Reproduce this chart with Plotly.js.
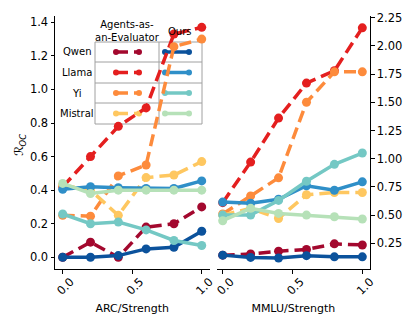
<!DOCTYPE html>
<html>
<head>
<meta charset="utf-8">
<script src="https://cdn.plot.ly/plotly-3.0.1.min.js"></script>
<style>
  html, body { margin: 0; padding: 0; background: #fff; }
  #chart { width: 407px; height: 326px; }
</style>
</head>
<body>
<div id="chart"></div>
<script>
// Strength levels on the x axis
const strength = [0, 0.2, 0.4, 0.6, 0.8, 1.0];
const models = ['Qwen', 'Llama', 'Yi', 'Mistral'];

// ARC panel (left axis), one row per model
const arcAgents = [
  [0.0, 0.09, 0.0, 0.18, 0.20, 0.30],
  [0.42, 0.60, 0.78, 0.89, 1.33, 1.37],
  [0.25, 0.245, 0.485, 0.55, 1.255, 1.30],
  [0.43, 0.40, 0.25, 0.475, 0.49, 0.57]
];
const arcOurs = [
  [0.0, 0.0, 0.01, 0.05, 0.06, 0.155],
  [0.405, 0.42, 0.415, 0.41, 0.41, 0.455],
  [0.258, 0.20, 0.21, 0.163, 0.10, 0.07],
  [0.44, 0.38, 0.40, 0.40, 0.40, 0.40]
];

// MMLU panel (right axis)
const mmluAgents = [
  [0.145, 0.155, 0.18, 0.195, 0.245, 0.235],
  [0.61, 0.97, 1.36, 1.67, 1.78, 2.16],
  [0.51, 0.67, 0.83, 1.50, 1.77, 1.77],
  [0.50, 0.56, 0.47, 0.68, 0.70, 0.70]
];
const mmluOurs = [
  [0.145, 0.125, 0.12, 0.14, 0.13, 0.13],
  [0.615, 0.605, 0.64, 0.76, 0.72, 0.795],
  [0.50, 0.50, 0.63, 0.80, 0.95, 1.05],
  [0.45, 0.56, 0.515, 0.50, 0.485, 0.465]
];

const agentColors = ['#a3082e', '#e41f1f', '#fd8b3c', '#fec760'];
const oursColors = ['#0b529c', '#2f8fc8', '#74c8c4', '#b6e1b8'];

const FONT = 'DejaVu Sans, sans-serif';
const DASH = '12px,6px';

// helpers to place legend bits in pixel terms
const M = { l: 55, r: 37, t: 16, b: 57 };
const PW = 407 - M.l - M.r;
const PH = 326 - M.t - M.b;
const px = x => (x - M.l) / PW;
const py = y => (326 - M.b - y) / PH;

const traces = [];
function addSeries(ys, color, dashed, xa, ya) {
  traces.push({
    x: strength, y: ys, xaxis: xa, yaxis: ya,
    type: 'scatter', mode: 'lines+markers',
    line: { color: color, width: 3.5, dash: dashed ? DASH : 'solid' },
    marker: { color: color, size: 9 },
    showlegend: false, hoverinfo: 'skip'
  });
}
models.forEach((m, i) => {
  addSeries(arcAgents[i], agentColors[i], true, 'x', 'y');
  addSeries(mmluAgents[i], agentColors[i], true, 'x2', 'y2');
});
models.forEach((m, i) => {
  addSeries(arcOurs[i], oursColors[i], false, 'x', 'y');
  addSeries(mmluOurs[i], oursColors[i], false, 'x2', 'y2');
});

// table-style legend
const rows = [42, 62, 83, 103, 124];
const cols = [95, 159, 202];
const shapes = [];
const annotations = [];
const gridLine = { color: '#a0a0a0', width: 1 };
rows.forEach(r => shapes.push({ type: 'line', xref: 'paper', yref: 'paper', layer: 'below',
  x0: px(cols[0]), x1: px(cols[2]), y0: py(r), y1: py(r), line: gridLine }));
cols.forEach(c => shapes.push({ type: 'line', xref: 'paper', yref: 'paper', layer: 'below',
  x0: px(c), x1: px(c), y0: py(rows[0]), y1: py(rows[4]), line: gridLine }));

function dot(x, y, color) {
  shapes.push({ type: 'circle', xref: 'paper', yref: 'paper', layer: 'below',
    xsizemode: 'pixel', ysizemode: 'pixel', xanchor: px(x), yanchor: py(y),
    x0: -3, x1: 3, y0: -3, y1: 3, fillcolor: color, line: { width: 0 } });
}
function label(text, x, y, size, extra) {
  annotations.push(Object.assign({ xref: 'paper', yref: 'paper', x: px(x), y: py(y),
    xanchor: 'center', yanchor: 'middle', text: text, showarrow: false,
    font: { family: FONT, size: size, color: '#000' } }, extra || {}));
}
models.forEach((m, i) => {
  const yc = (rows[i] + rows[i + 1]) / 2;
  shapes.push({ type: 'line', xref: 'paper', yref: 'paper', layer: 'below',
    x0: px(116), x1: px(139), y0: py(yc), y1: py(yc),
    line: { color: agentColors[i], width: 3.5, dash: DASH } });
  dot(116, yc, agentColors[i]);
  dot(139, yc, agentColors[i]);
  shapes.push({ type: 'line', xref: 'paper', yref: 'paper', layer: 'below',
    x0: px(165), x1: px(189), y0: py(yc), y1: py(yc),
    line: { color: oursColors[i], width: 3.5 } });
  dot(165, yc, oursColors[i]);
  dot(189, yc, oursColors[i]);
  label(m, 77, yc, 10);
});
label('Agents-as-<br>an-Evaluator', 127, 30.5, 10);
label('Ours', 180, 32, 10);

// y title as a rotated annotation so it sits where the reference has it
label('ℛ<sub><i>OC</i></sub>', 20, 145, 12, { textangle: -90 });

const tickFont = { family: FONT, size: 11.5, color: '#000' };
const xCommon = {
  tickvals: [0, 0.5, 1.0], tickformat: '.1f', tickangle: -45,
  ticklabelshift: 8, ticklabelstandoff: -3,
  ticks: 'outside', ticklen: 3.5, tickwidth: 1, tickcolor: '#000',
  showline: true, linecolor: '#000', linewidth: 1,
  showgrid: false, zeroline: false, tickfont: tickFont
};

const layout = {
  width: 407, height: 326,
  margin: M,
  paper_bgcolor: '#fff', plot_bgcolor: 'rgba(0,0,0,0)',
  font: { family: FONT, color: '#000' },
  showlegend: false,
  xaxis: Object.assign({}, xCommon, {
    domain: [0, px(209.5)], range: [-0.0554, 1.056], anchor: 'y',
    title: { text: 'ARC/Strength', font: { family: FONT, size: 11 } }
  }),
  xaxis2: Object.assign({}, xCommon, {
    domain: [px(216.7), 1], range: [-0.043, 1.055], anchor: 'y2',
    title: { text: 'MMLU/Strength', font: { family: FONT, size: 11 } }
  }),
  yaxis: {
    domain: [0, 1], range: [-0.0697, 1.4375], anchor: 'x',
    dtick: 0.2, tick0: 0, tickformat: '.1f',
    ticks: 'outside', ticklen: 3.5, tickwidth: 1, tickcolor: '#000',
    showline: true, linecolor: '#000', linewidth: 1,
    showgrid: false, zeroline: false, tickfont: tickFont
  },
  yaxis2: {
    domain: [0, 1], range: [0.022, 2.265], anchor: 'x2', side: 'right',
    dtick: 0.25, tick0: 0, tickformat: '.2f',
    ticks: 'outside', ticklen: 3.5, tickwidth: 1, tickcolor: '#000',
    showline: true, linecolor: '#000', linewidth: 1,
    showgrid: false, zeroline: false, tickfont: tickFont
  },
  shapes: shapes,
  annotations: annotations
};

Plotly.newPlot('chart', traces, layout, { staticPlot: true, displayModeBar: false });
</script>
</body>
</html>
